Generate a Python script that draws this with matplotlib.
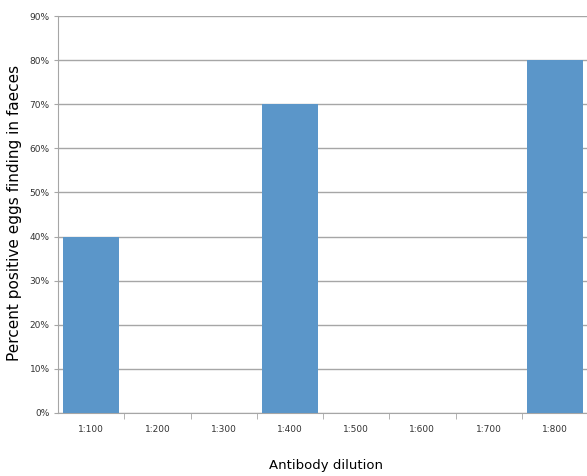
import numpy as np
import matplotlib.pyplot as plt
from matplotlib.ticker import FixedLocator

# antibody dilution categories and percent positive values
dilutions = ['1:100', '1:200', '1:300', '1:400', '1:500', '1:600', '1:700', '1:800']
percent_positive = [40, 0, 0, 70, 0, 0, 0, 80]
y_ticks = [0, 10, 20, 30, 40, 50, 60, 70, 80, 90]


def render_plot():
    fig = plt.figure(figsize=(5.87, 4.76), dpi=100)
    ax = fig.add_axes([58 / 587, 63 / 476, 530 / 587, 397 / 476])

    x = np.arange(len(dilutions))
    ax.bar(x, percent_positive, width=0.85, color='#5b96c9', zorder=3)

    ax.set_xlim(-0.5, len(dilutions) - 0.5)
    ax.set_ylim(0, 90)

    # gridlines
    ax.set_yticks(y_ticks)
    ax.set_yticklabels([f'{v}%' for v in y_ticks], fontsize=6.5, color='#333333')
    ax.yaxis.grid(True, color='#a6a6a6', linewidth=1, zorder=0)
    ax.tick_params(axis='y', length=3, color='#a6a6a6', pad=3)

    # category labels in the middle, tick marks on the boundaries
    ax.set_xticks(x)
    ax.set_xticklabels(dilutions, fontsize=6.5, color='#333333')
    ax.tick_params(axis='x', which='major', length=0, pad=9)
    ax.xaxis.set_minor_locator(FixedLocator(x[1:] - 0.5))
    ax.tick_params(axis='x', which='minor', length=4, color='#a6a6a6')

    for side in ['top', 'right']:
        ax.spines[side].set_visible(False)
    ax.spines['left'].set_color('#a6a6a6')
    ax.spines['bottom'].set_color('#a6a6a6')

    # axis titles placed where the reference has them
    ax.set_xlabel('Antibody dilution', fontsize=9.5, va='center')
    ax.xaxis.set_label_coords((326 - 58) / 530, -53 / 397)
    ax.set_ylabel('Percent positive eggs finding in faeces', fontsize=11, va='center')
    ax.yaxis.set_label_coords(-43 / 530, (413 - 213) / 397)

    fig.savefig('out.png', dpi=100)


def main():
    render_plot()


if __name__ == "__main__":
    main()
